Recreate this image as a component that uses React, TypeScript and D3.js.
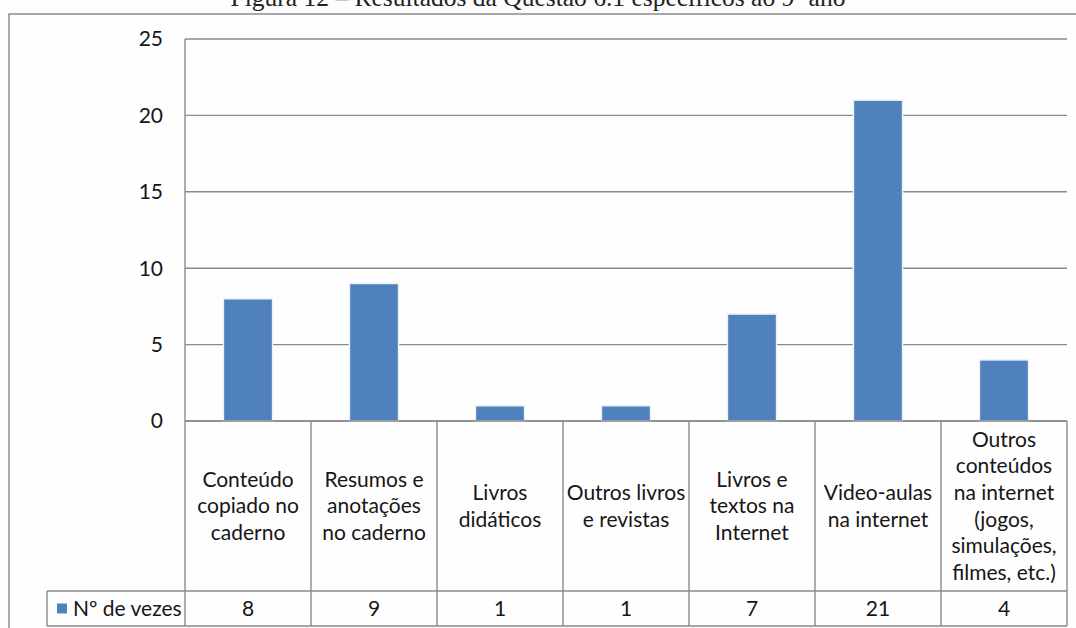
import React from "react";
import * as d3 from "d3";

// Categories (each split into the lines shown in the table header cells)
const categories: string[][] = [
  ["Conteúdo", "copiado no", "caderno"],
  ["Resumos e", "anotações", "no caderno"],
  ["Livros", "didáticos"],
  ["Outros livros", "e revistas"],
  ["Livros e", "textos na", "Internet"],
  ["Video-aulas", "na internet"],
  ["Outros", "conteúdos", "na internet", "(jogos,", "simulações,", "filmes, etc.)"],
];
const values: number[] = [8, 9, 1, 1, 7, 21, 4];
const yTicks: number[] = [0, 5, 10, 15, 20, 25];
const seriesName = "Nº de vezes";
const title = "Figura 12 – Resultados da Questão 6.1 específicos ao 9º ano";

const W = 1076;
const H = 628;
const plotLeft = 185;
const plotRight = 1067;
const plotTop = 39;
const plotBottom = 421;
const labelRowBottom = 591;
const dataRowBottom = 626;
const legendLeft = 47;

const FONT = "Lato, 'Open Sans', sans-serif";
const FS = 21;
const GRID = "#8a8a8a";
const BAR = "#4f81bd";
const INK = "#161616";

export default function App() {
  const ids = categories.map((_, i) => String(i));
  const x = d3.scaleBand<string>().domain(ids).range([plotLeft, plotRight]).padding(0);
  const y = d3.scaleLinear().domain([0, 25]).range([plotBottom, plotTop]);
  const bw = x.bandwidth();
  const barW = bw * 0.39;
  const lineH = 26.6;
  const labelMid = (plotBottom + labelRowBottom) / 2;
  const dataMid = (labelRowBottom + dataRowBottom) / 2;

  return (
    <svg
      width={W}
      height={H}
      style={{ position: "absolute", left: 0, top: 0, background: "#fdfdfd" }}
      fontFamily={FONT}
    >
      {/* caption, partly above the top edge of the page */}
      <text
        x={538}
        y={6}
        textAnchor="middle"
        fontFamily="'Liberation Serif', 'DejaVu Serif', serif"
        fontSize={25.5}
        fill="#222"
      >
        {title}
      </text>

      {/* outer chart frame */}
      <rect x={10} y={15} width={W} height={H} fill="#fefefe" />
      <path d={`M9,${H + 2} V14 H${W + 2}`} fill="none" stroke="#8c8c8c" strokeWidth={1.5} />

      {/* gridlines */}
      {yTicks.map((t) => (
        <line key={t} x1={plotLeft} x2={plotRight} y1={y(t)} y2={y(t)} stroke={GRID} strokeWidth={1.4} />
      ))}

      {/* y tick labels */}
      {yTicks.map((t) => (
        <text key={t} x={163} y={y(t)} dy="0.35em" textAnchor="end" fontSize={FS} fill={INK}>
          {t}
        </text>
      ))}

      {/* bars */}
      {values.map((v, i) => {
        const cx = (x(String(i)) as number) + bw / 2;
        return (
          <rect
            key={i}
            x={cx - barW / 2}
            y={y(v)}
            width={barW}
            height={y(0) - y(v)}
            fill={BAR}
            stroke="#eef2f8"
            strokeWidth={1.5}
          />
        );
      })}

      {/* data table */}
      <g stroke={GRID} strokeWidth={1.4} fill="none">
        <line x1={plotLeft} x2={plotLeft} y1={plotTop} y2={dataRowBottom} />
        <line x1={plotLeft} x2={plotRight} y1={plotBottom} y2={plotBottom} />
        <line x1={legendLeft} x2={plotRight} y1={labelRowBottom} y2={labelRowBottom} />
        <line x1={legendLeft} x2={plotRight} y1={dataRowBottom} y2={dataRowBottom} />
        <line x1={legendLeft} x2={legendLeft} y1={labelRowBottom} y2={dataRowBottom} />
        {ids.map((id) => (
          <line
            key={id}
            x1={(x(id) as number) + bw}
            x2={(x(id) as number) + bw}
            y1={plotBottom}
            y2={dataRowBottom}
          />
        ))}
      </g>

      {/* category labels */}
      {categories.map((lines, i) => {
        const cx = (x(String(i)) as number) + bw / 2;
        const start = labelMid - ((lines.length - 1) * lineH) / 2;
        return (
          <text key={i} textAnchor="middle" fontSize={FS} fill={INK}>
            {lines.map((ln, j) => (
              <tspan key={j} x={cx} y={start + j * lineH} dy="0.35em">
                {ln}
              </tspan>
            ))}
          </text>
        );
      })}

      {/* values row */}
      {values.map((v, i) => (
        <text
          key={i}
          x={(x(String(i)) as number) + bw / 2}
          y={dataMid}
          dy="0.35em"
          textAnchor="middle"
          fontSize={FS}
          fill={INK}
        >
          {v}
        </text>
      ))}

      {/* legend key */}
      <rect x={57} y={dataMid - 5} width={10} height={10} fill={BAR} />
      <text x={73} y={dataMid} dy="0.35em" fontSize={FS} fill={INK}>
        {seriesName}
      </text>
    </svg>
  );
}
